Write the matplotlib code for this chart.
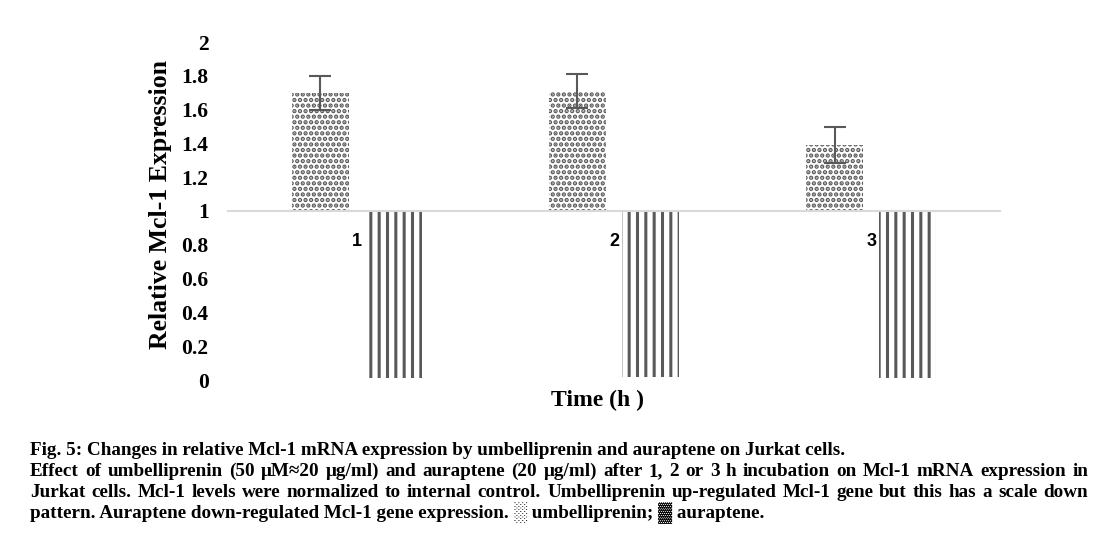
import matplotlib
matplotlib.use("Agg")
import matplotlib.pyplot as plt
import numpy as np

# dados
tempos = ["1", "2", "3"]
umbelliprenin = [1.70, 1.71, 1.39]
umbelliprenin_erro = [0.10, 0.10, 0.105]
auraptene = [0.012, 0.018, 0.012]
base = 1.0
yticks = [0, 0.2, 0.4, 0.6, 0.8, 1, 1.2, 1.4, 1.6, 1.8, 2]

legenda_titulo = "Fig. 5: Changes in relative Mcl-1 mRNA expression by umbelliprenin and auraptene on Jurkat cells."
legenda_linhas = [
    "Effect of umbelliprenin (50 μM≈20 μg/ml) and auraptene (20 μg/ml) after 1, 2 or 3 h incubation on Mcl-1 mRNA expression in",
    "Jurkat cells. Mcl-1 levels were normalized to internal control. Umbelliprenin up-regulated Mcl-1 gene but this has a scale down",
]
legenda_final = "pattern. Auraptene down-regulated Mcl-1 gene expression. ░ umbelliprenin; ▓ auraptene."

plt.rcParams['hatch.linewidth'] = 2.2
serif = ['Liberation Serif', 'DejaVu Sans']
W, H = 1093, 535

fig = plt.figure(figsize=(W / 100, H / 100), dpi=100)
ax = fig.add_axes([228 / W, 1 - 380 / H, 772 / W, 338 / H])

# eixo horizontal em y = 1 (antes de mexer nos ticks, pois isso os recria)
for s in ['top', 'right', 'left']:
    ax.spines[s].set_visible(False)
ax.spines['bottom'].set_position(('data', base))
ax.spines['bottom'].set_color('#d9d9d9')
ax.spines['bottom'].set_linewidth(1.5)

x = np.arange(len(tempos))
largura = 0.222
desloc = 0.142
cinza = '#595959'

ax.bar(x - desloc, [v - base for v in umbelliprenin], bottom=base, width=largura,
       color='white', edgecolor=cinza, linewidth=0, hatch='...')
ax.errorbar(x - desloc, umbelliprenin, yerr=umbelliprenin_erro, fmt='none',
            ecolor=cinza, elinewidth=1.5, capsize=8, capthick=1.5)
ax.bar(x + desloc, [v - base for v in auraptene], bottom=base, width=largura,
       color='white', edgecolor=cinza, linewidth=0, hatch='||')

ax.set_xlim(-0.5, 2.5)
ax.set_ylim(0, 2)
ax.set_yticks(yticks)
ax.set_yticklabels([f"{v:g}" for v in yticks], family=serif, fontweight='bold', fontsize=15.5)
ax.set_xticks(x)
ax.set_xticklabels(tempos, family='Liberation Sans', fontweight='bold', fontsize=13)
ax.tick_params(axis='y', length=0, pad=14)
ax.tick_params(axis='x', length=0, pad=16)

ax.set_ylabel("Relative Mcl-1 Expression", family=serif, fontweight='bold', fontsize=18.5)
ax.yaxis.set_label_coords(-0.0725, 0.518)
ax.set_xlabel("Time (h )", family=serif, fontweight='bold', fontsize=17)
ax.xaxis.set_label_coords(0.478, -0.03)

# legenda da figura
fs = 13.8
x0, x1 = 30, 1088
linhas_y = [455, 476, 497, 518]
fig.text(x0 / W, 1 - linhas_y[0] / H, legenda_titulo, family=serif, fontweight='bold',
         fontsize=fs, va='baseline')

renderer = fig.canvas.get_renderer()
for linha, yy in zip(legenda_linhas, linhas_y[1:3]):
    palavras = linha.split(" ")
    textos = [fig.text(0, 1 - yy / H, p, family=serif, fontweight='bold', fontsize=fs,
                       va='baseline') for p in palavras]
    larguras = [t.get_window_extent(renderer).width for t in textos]
    espaco = (x1 - x0 - sum(larguras)) / (len(palavras) - 1)
    pos = x0
    for t, lw in zip(textos, larguras):
        t.set_x(pos / W)
        pos += lw + espaco

fig.text(x0 / W, 1 - linhas_y[3] / H, legenda_final, family=serif, fontweight='bold',
         fontsize=fs, va='baseline')

fig.savefig("out.png", dpi=100)
